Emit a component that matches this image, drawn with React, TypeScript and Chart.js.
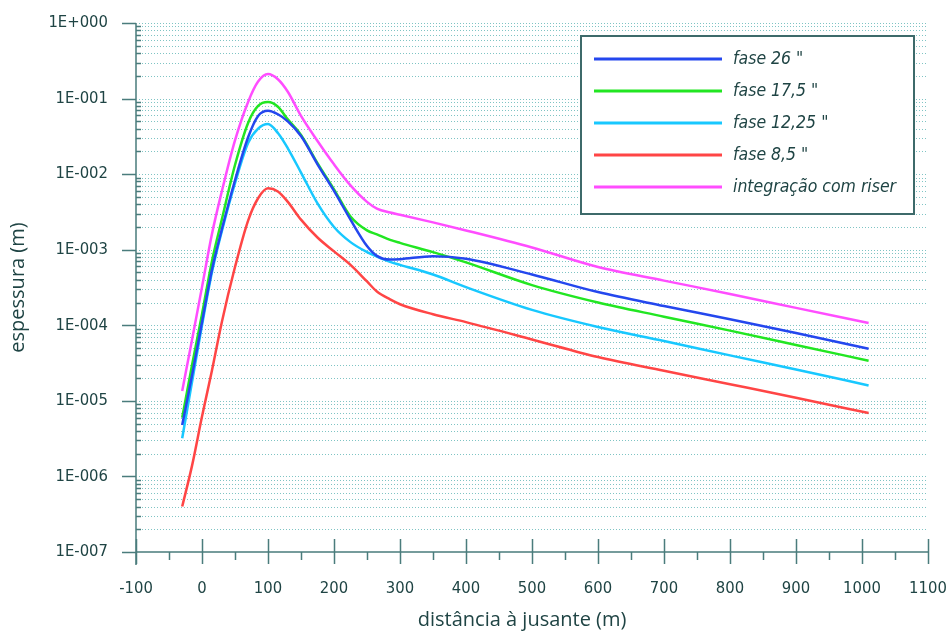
import React, { useEffect, useRef } from 'react';
import { Chart, registerables } from 'chart.js';

Chart.register(...registerables);

// ---- data ----
const distance = [-30, -15, 0, 15, 30, 50, 70, 85, 100, 115, 130, 150, 175, 200, 225, 250, 265, 285, 300, 350, 400, 500, 600, 700, 800, 900, 1010];

const fase26 = [4.8e-6, 2.2e-5, 1.1e-4, 5.4e-4, 1.85e-3, 8.3e-3, 0.031, 0.059, 0.069, 0.062, 0.050, 0.032, 0.0135, 6.0e-3, 2.5e-3, 1.12e-3, 8.3e-4, 7.4e-4, 7.5e-4, 8.2e-4, 7.6e-4, 4.7e-4, 2.75e-4, 1.8e-4, 1.2e-4, 7.9e-5, 4.9e-5];
const fase175 = [6.0e-6, 3.0e-5, 1.4e-4, 7.0e-4, 2.5e-3, 0.0132, 0.048, 0.080, 0.090, 0.078, 0.053, 0.033, 0.014, 6.3e-3, 2.75e-3, 1.8e-3, 1.6e-3, 1.35e-3, 1.23e-3, 9.3e-4, 6.8e-4, 3.4e-4, 2.0e-4, 1.3e-4, 8.5e-5, 5.5e-5, 3.4e-5];
const fase1225 = [3.2e-6, 1.8e-5, 1.0e-4, 5.0e-4, 1.75e-3, 7.6e-3, 0.026, 0.040, 0.046, 0.035, 0.022, 0.0105, 4.1e-3, 2.0e-3, 1.26e-3, 9.3e-4, 8.1e-4, 6.9e-4, 6.3e-4, 4.7e-4, 3.2e-4, 1.6e-4, 9.5e-5, 6.2e-5, 4.0e-5, 2.6e-5, 1.6e-5];
const fase85 = [4.0e-7, 1.4e-6, 6.2e-6, 2.5e-5, 1.1e-4, 5.9e-4, 2.45e-3, 4.8e-3, 6.5e-3, 5.9e-3, 4.3e-3, 2.5e-3, 1.45e-3, 9.5e-4, 6.3e-4, 3.8e-4, 2.8e-4, 2.2e-4, 1.9e-4, 1.4e-4, 1.1e-4, 6.5e-5, 3.8e-5, 2.5e-5, 1.66e-5, 1.1e-5, 6.9e-6];
const riser = [1.35e-5, 6.5e-5, 3.2e-4, 1.6e-3, 5.9e-3, 0.028, 0.091, 0.168, 0.211, 0.18, 0.123, 0.059, 0.0275, 0.0135, 7.1e-3, 4.3e-3, 3.5e-3, 3.1e-3, 2.9e-3, 2.3e-3, 1.8e-3, 1.07e-3, 5.9e-4, 3.9e-4, 2.6e-4, 1.7e-4, 1.07e-4];

const seriesLabels = ['fase 26 "', 'fase 17,5 "', 'fase 12,25 "', 'fase 8,5 "', 'integração com riser'];
const seriesColors = ['#2447ee', '#22e622', '#18c8ff', '#ff4545', '#ff4dff'];
const seriesValues = [fase26, fase175, fase1225, fase85, riser];

const xTickValues = [-100, 0, 100, 200, 300, 400, 500, 600, 700, 800, 900, 1000, 1100];
const xTickLabels = ['-100', '0', '100', '200', '300', '400', '500', '600', '700', '800', '900', '1000', '1100'];
const yTickValues = [1e-7, 1e-6, 1e-5, 1e-4, 1e-3, 1e-2, 1e-1, 1];
const yTickLabels = ['1E-007', '1E-006', '1E-005', '1E-004', '1E-003', '1E-002', '1E-001', '1E+000'];
const xTitle = 'distância à jusante (m)';

const TEXT = '#1f4444';
const AXIS = '#4a7c7c';
const GRID = '#7fc4c4';
const TICK_FONT = '"DejaVu Sans Condensed", "Liberation Sans Narrow", sans-serif';

const decorPlugin = {
  id: 'decor',
  beforeDatasetsDraw(chart: any) {
    const { ctx, chartArea: a, scales } = chart;
    const y = scales.y;
    ctx.save();
    ctx.strokeStyle = GRID;
    ctx.lineWidth = 1;
    ctx.setLineDash([1, 2]);
    for (let e = -7; e <= 0; e++) {
      for (let m = 1; m <= 9; m++) {
        const v = m * Math.pow(10, e);
        if (v > 1.0000001) break;
        if (e === -7 && m === 1) continue;
        const py = Math.round(y.getPixelForValue(v)) + 0.5;
        ctx.beginPath();
        ctx.moveTo(a.left + 3, py);
        ctx.lineTo(a.right, py);
        ctx.stroke();
      }
    }
    ctx.restore();
  },
  afterDatasetsDraw(chart: any) {
    const { ctx, chartArea: a, scales } = chart;
    const x = scales.x;
    const y = scales.y;
    ctx.save();
    ctx.strokeStyle = AXIS;
    ctx.lineWidth = 1.5;
    ctx.setLineDash([]);
    ctx.beginPath();
    ctx.moveTo(a.left, a.top);
    ctx.lineTo(a.left, a.bottom + 13);
    ctx.moveTo(a.left, a.bottom);
    ctx.lineTo(a.right, a.bottom);
    ctx.stroke();
    ctx.beginPath();
    for (let v = -100; v <= 1100; v += 50) {
      const px = Math.round(x.getPixelForValue(v)) + 0.5;
      if (v % 100 === 0) {
        ctx.moveTo(px, a.bottom - 13);
        ctx.lineTo(px, a.bottom + 12);
      } else {
        ctx.moveTo(px, a.bottom);
        ctx.lineTo(px, a.bottom + 8);
      }
    }
    for (let e = -7; e <= 0; e++) {
      for (let m = 1; m <= 9; m++) {
        const v = m * Math.pow(10, e);
        if (v > 1.0000001) break;
        const py = Math.round(y.getPixelForValue(v)) + 0.5;
        if (m === 1) {
          ctx.moveTo(a.left - 14, py);
          ctx.lineTo(a.left, py);
        } else {
          ctx.moveTo(a.left, py);
          ctx.lineTo(a.left + 5, py);
        }
      }
    }
    ctx.stroke();

    // x axis title (slightly left of the plot centre, as in the original)
    ctx.fillStyle = TEXT;
    ctx.font = '20px "Open Sans", sans-serif';
    ctx.textAlign = 'center';
    ctx.textBaseline = 'middle';
    ctx.fillText(xTitle, x.getPixelForValue(485), a.bottom + 68);

    // legend
    const bx = a.right - 347;
    const by = a.top + 13;
    const bw = 333;
    const bh = 178;
    ctx.fillStyle = '#ffffff';
    ctx.fillRect(bx, by, bw, bh);
    ctx.strokeStyle = '#3d6a6a';
    ctx.lineWidth = 2;
    ctx.strokeRect(bx, by, bw, bh);
    ctx.font = 'italic 17.5px ' + TICK_FONT;
    ctx.textBaseline = 'middle';
    ctx.textAlign = 'left';
    chart.data.datasets.forEach((ds: any, i: number) => {
      const ry = by + 23 + i * 32;
      ctx.strokeStyle = ds.borderColor;
      ctx.lineWidth = 3;
      ctx.beginPath();
      ctx.moveTo(bx + 13, ry);
      ctx.lineTo(bx + 141, ry);
      ctx.stroke();
      ctx.fillStyle = TEXT;
      ctx.fillText(ds.label, bx + 152, ry);
    });
    ctx.restore();
  },
};

const zeroPad = (s: any) => {
  s.paddingTop = 0;
  s.paddingBottom = 0;
  s.paddingLeft = 0;
  s.paddingRight = 0;
};

export default function App() {
  const ref = useRef<HTMLCanvasElement | null>(null);
  useEffect(() => {
    if (!ref.current) return;
    const datasets = seriesValues.map((vals, i) => ({
      label: seriesLabels[i],
      data: distance.map((d, j) => ({ x: d, y: vals[j] })),
      borderColor: seriesColors[i],
      backgroundColor: seriesColors[i],
      borderWidth: 2.5,
      pointRadius: 0,
      fill: false,
      cubicInterpolationMode: 'monotone' as const,
    }));
    const chart = new Chart(ref.current, {
      type: 'line',
      data: { datasets },
      plugins: [decorPlugin],
      options: {
        animation: false,
        responsive: true,
        maintainAspectRatio: false,
        devicePixelRatio: 1,
        layout: { padding: { top: 23, right: 22, left: 0, bottom: 0 } },
        plugins: { legend: { display: false }, tooltip: { enabled: false } },
        scales: {
          x: {
            type: 'linear',
            min: -100,
            max: 1100,
            afterBuildTicks: (s: any) => {
              s.ticks = xTickValues.map((v) => ({ value: v }));
            },
            afterFit: (s: any) => {
              s.height = 81;
              zeroPad(s);
            },
            grid: { display: false, drawTicks: false },
            border: { display: false },
            ticks: {
              autoSkip: false,
              maxRotation: 0,
              padding: 27,
              color: TEXT,
              font: { family: TICK_FONT, size: 16.5 },
              callback: (_v: any, i: number) => xTickLabels[i],
            },
            title: { display: false },
          },
          y: {
            type: 'logarithmic',
            min: 1e-7,
            max: 1,
            afterBuildTicks: (s: any) => {
              s.ticks = yTickValues.map((v) => ({ value: v }));
            },
            afterFit: (s: any) => {
              s.width = 136;
              zeroPad(s);
            },
            grid: { display: false, drawTicks: false },
            border: { display: false },
            ticks: {
              autoSkip: false,
              padding: 28,
              color: TEXT,
              font: { family: TICK_FONT, size: 16.5 },
              callback: (_v: any, i: number) => yTickLabels[i],
            },
            title: {
              display: true,
              text: 'espessura (m)',
              color: TEXT,
              font: { family: '"Open Sans", sans-serif', size: 20 },
              padding: { top: 6, bottom: 0 },
            },
          },
        },
      },
    });
    return () => chart.destroy();
  }, []);
  return (
    <div style={{ position: 'absolute', left: 0, top: 0, width: 950, height: 633, background: '#ffffff' }}>
      <canvas ref={ref} />
    </div>
  );
}
